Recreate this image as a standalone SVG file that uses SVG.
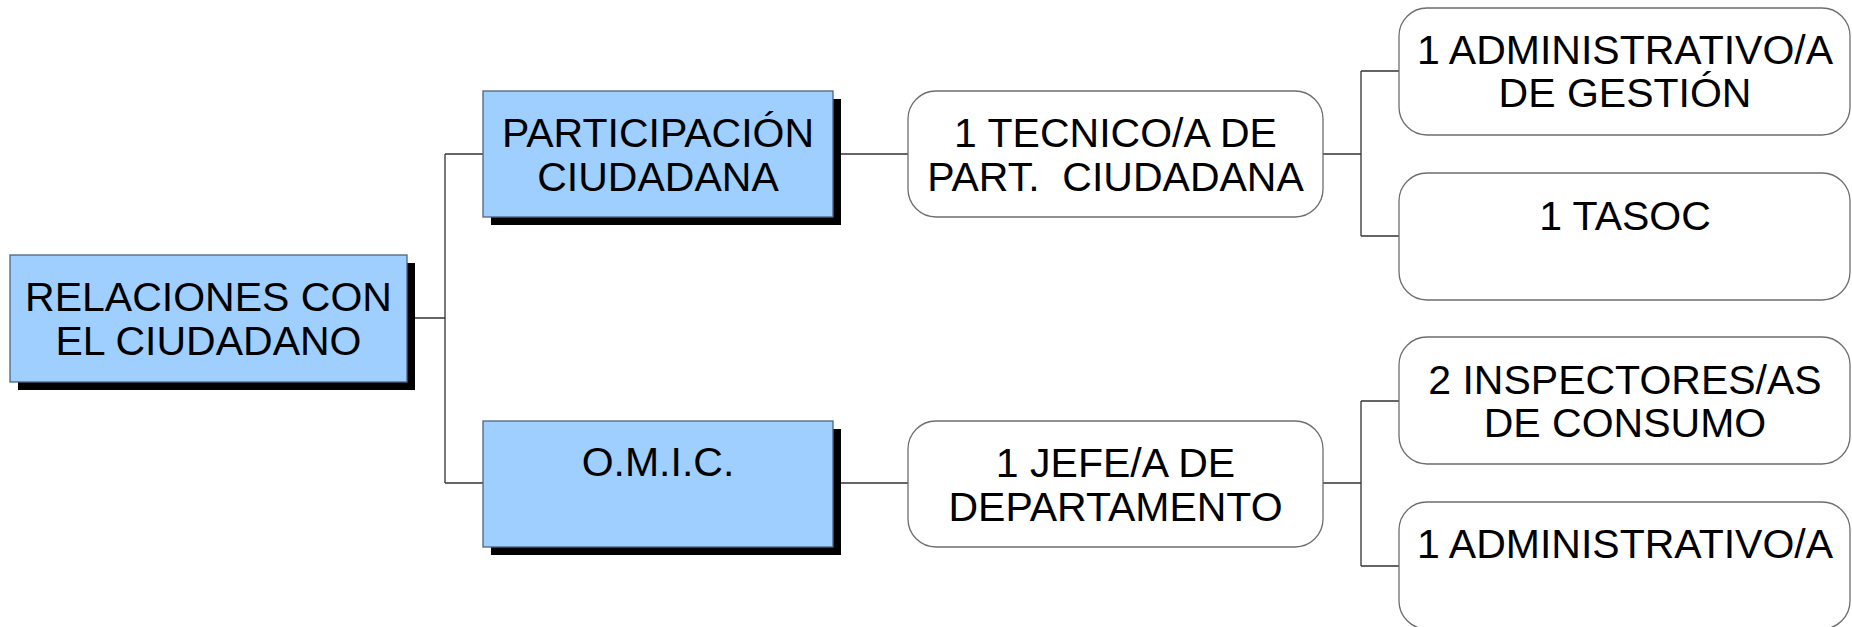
<svg xmlns="http://www.w3.org/2000/svg" width="1852" height="627" viewBox="0 0 1852 627">
  <style>
    .blue { fill: #9fcfff; stroke: #4d6580; stroke-width: 1.3; }
    .shadow { fill: #000000; }
    .round { fill: #ffffff; stroke: #6e6e6e; stroke-width: 1.3; }
    .lbl { font-family: "Liberation Sans", Arial, sans-serif; font-size: 41px; fill: #000000; text-anchor: middle; white-space: pre; }
    .conn { fill: none; stroke: #333333; stroke-width: 1.3; }
  </style>
  <rect width="1852" height="627" fill="#ffffff"/>

  <g id="connectors">
    <path class="conn" d="M407 318 H445 M445 154 V483 M445 154 H483 M445 483 H483"/>
    <path class="conn" d="M833 154 H908 M833 483 H908"/>
    <path class="conn" d="M1323 154 H1361 M1361 71 V236 M1361 71 H1399 M1361 236 H1399"/>
    <path class="conn" d="M1323 483 H1361 M1361 401 V566 M1361 401 H1399 M1361 566 H1399"/>
  </g>

  <g id="node-root">
    <rect class="shadow" x="18" y="263" width="397" height="127"/>
    <rect class="blue" x="10" y="255" width="397" height="127"/>
    <text class="lbl" x="208.5" y="311">RELACIONES CON</text>
    <text class="lbl" x="208.5" y="355">EL CIUDADANO</text>
  </g>

  <g id="node-participacion">
    <rect class="shadow" x="491" y="99" width="350" height="126"/>
    <rect class="blue" x="483" y="91" width="350" height="126"/>
    <text class="lbl" x="658" y="147">PARTICIPACIÓN</text>
    <text class="lbl" x="658" y="191">CIUDADANA</text>
  </g>

  <g id="node-omic">
    <rect class="shadow" x="491" y="429" width="350" height="126"/>
    <rect class="blue" x="483" y="421" width="350" height="126"/>
    <text class="lbl" x="658" y="476">O.M.I.C.</text>
  </g>

  <g id="node-tecnico">
    <rect class="round" x="908" y="91" width="415" height="126" rx="28" ry="28"/>
    <text class="lbl" x="1115.5" y="147">1 TECNICO/A DE</text>
    <text class="lbl" x="1115.5" y="191">PART.  CIUDADANA</text>
  </g>

  <g id="node-jefe">
    <rect class="round" x="908" y="421" width="415" height="126" rx="28" ry="28"/>
    <text class="lbl" x="1115.5" y="477">1 JEFE/A DE</text>
    <text class="lbl" x="1115.5" y="521">DEPARTAMENTO</text>
  </g>

  <g id="node-admin-gestion">
    <rect class="round" x="1399" y="8" width="451" height="127" rx="28" ry="28"/>
    <text class="lbl" x="1625" y="64">1 ADMINISTRATIVO/A</text>
    <text class="lbl" x="1625" y="107">DE GESTIÓN</text>
  </g>

  <g id="node-tasoc">
    <rect class="round" x="1399" y="173" width="451" height="127" rx="28" ry="28"/>
    <text class="lbl" x="1625" y="230">1 TASOC</text>
  </g>

  <g id="node-inspectores">
    <rect class="round" x="1399" y="337" width="451" height="127" rx="28" ry="28"/>
    <text class="lbl" x="1625" y="394">2 INSPECTORES/AS</text>
    <text class="lbl" x="1625" y="437">DE CONSUMO</text>
  </g>

  <g id="node-administrativo">
    <rect class="round" x="1399" y="502" width="451" height="127" rx="28" ry="28"/>
    <text class="lbl" x="1625" y="558">1 ADMINISTRATIVO/A</text>
  </g>
</svg>
